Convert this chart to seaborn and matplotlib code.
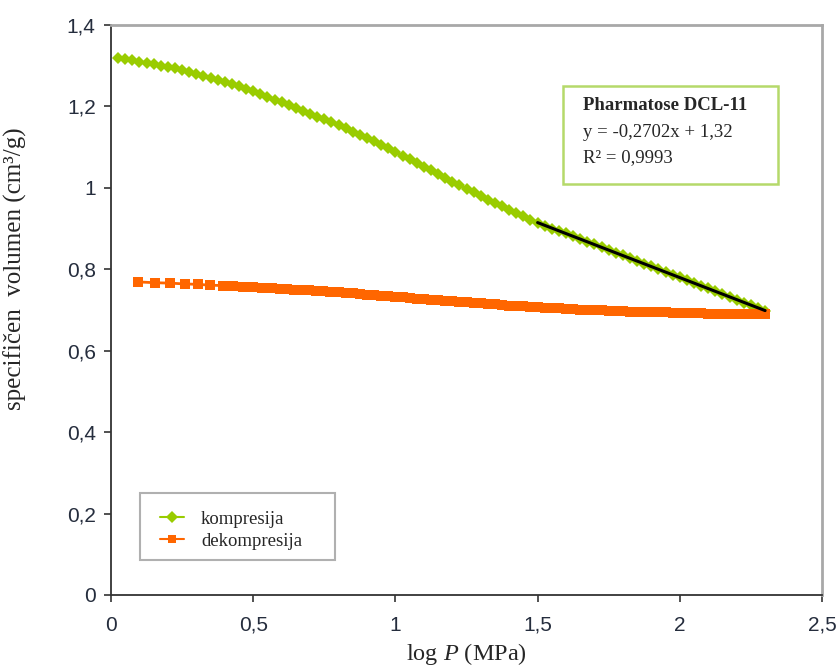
import numpy as np
import pandas as pd
import matplotlib
matplotlib.use("Agg")
import matplotlib.pyplot as plt
from matplotlib.ticker import FuncFormatter, MultipleLocator
from matplotlib.patches import Rectangle
import seaborn as sns

# log P (MPa) and specific volume (cm3/g) during compression
komp_x = [0.025, 0.050, 0.075, 0.100, 0.125, 0.150, 0.175, 0.200, 0.225, 0.250,
          0.275, 0.300, 0.325, 0.350, 0.375, 0.400, 0.425, 0.450, 0.475, 0.500,
          0.525, 0.550, 0.575, 0.600, 0.625, 0.650, 0.675, 0.700, 0.725, 0.750,
          0.775, 0.800, 0.825, 0.850, 0.875, 0.900, 0.925, 0.950, 0.975, 1.000,
          1.025, 1.050, 1.075, 1.100, 1.125, 1.150, 1.175, 1.200, 1.225, 1.250,
          1.275, 1.300, 1.325, 1.350, 1.375, 1.400, 1.425, 1.450, 1.475, 1.500,
          1.525, 1.550, 1.575, 1.600, 1.625, 1.650, 1.675, 1.700, 1.725, 1.750,
          1.775, 1.800, 1.825, 1.850, 1.875, 1.900, 1.925, 1.950, 1.975, 2.000,
          2.025, 2.050, 2.075, 2.100, 2.125, 2.150, 2.175, 2.200, 2.225, 2.250,
          2.275, 2.300]
komp_y = [1.320, 1.317, 1.313, 1.310, 1.307, 1.304, 1.300, 1.297, 1.294, 1.290,
          1.285, 1.280, 1.275, 1.270, 1.265, 1.260, 1.254, 1.249, 1.243, 1.237,
          1.230, 1.224, 1.217, 1.210, 1.203, 1.196, 1.189, 1.182, 1.175, 1.168,
          1.162, 1.155, 1.147, 1.138, 1.130, 1.122, 1.114, 1.105, 1.097, 1.088,
          1.079, 1.070, 1.061, 1.052, 1.043, 1.034, 1.024, 1.015, 1.006, 0.997,
          0.989, 0.980, 0.971, 0.963, 0.955, 0.946, 0.938, 0.930, 0.921, 0.913,
          0.907, 0.900, 0.894, 0.888, 0.881, 0.874, 0.868, 0.861, 0.854, 0.847,
          0.841, 0.834, 0.827, 0.820, 0.814, 0.807, 0.800, 0.793, 0.787, 0.780,
          0.773, 0.766, 0.760, 0.753, 0.746, 0.739, 0.732, 0.725, 0.718, 0.712,
          0.705, 0.698]

# decompression
dekomp_x = [0.095, 0.155, 0.207, 0.260, 0.305, 0.348, 0.393, 0.430, 0.464, 0.500,
            0.530, 0.565, 0.594, 0.620, 0.645, 0.670, 0.695, 0.720, 0.745, 0.770,
            0.800, 0.825, 0.850, 0.875, 0.900, 0.925, 0.950, 0.975, 1.000, 1.025,
            1.050, 1.075, 1.100, 1.125, 1.150, 1.175, 1.200, 1.225, 1.250, 1.275,
            1.300, 1.325, 1.350, 1.375, 1.400, 1.425, 1.450, 1.475, 1.500, 1.525,
            1.550, 1.575, 1.600, 1.625, 1.650, 1.675, 1.700, 1.725, 1.750, 1.775,
            1.800, 1.825, 1.850, 1.875, 1.900, 1.925, 1.950, 1.975, 2.000, 2.025,
            2.050, 2.075, 2.100, 2.125, 2.150, 2.175, 2.200, 2.225, 2.250, 2.275,
            2.300]
dekomp_y = [0.769, 0.767, 0.766, 0.764, 0.763, 0.761, 0.760, 0.759, 0.757, 0.756,
            0.755, 0.753, 0.752, 0.751, 0.750, 0.749, 0.748, 0.747, 0.746, 0.745,
            0.743, 0.742, 0.741, 0.740, 0.738, 0.737, 0.735, 0.734, 0.732, 0.731,
            0.729, 0.728, 0.727, 0.725, 0.724, 0.723, 0.721, 0.720, 0.719, 0.718,
            0.716, 0.715, 0.714, 0.713, 0.711, 0.710, 0.709, 0.708, 0.707, 0.706,
            0.705, 0.704, 0.703, 0.702, 0.701, 0.700, 0.700, 0.699, 0.698, 0.698,
            0.697, 0.696, 0.696, 0.695, 0.695, 0.694, 0.694, 0.693, 0.693, 0.692,
            0.692, 0.692, 0.691, 0.691, 0.691, 0.690, 0.690, 0.690, 0.690, 0.690,
            0.690]

# linear fit over the high-pressure part of the compression curve
fit_slope = -0.2702
fit_intercept = 1.32
fit_range = [1.5, 2.3]
fit_r2 = "0,9993"
material = "Pharmatose DCL-11"

green = "#99cc00"
orange = "#ff6600"

sns.set_style("ticks")
plt.rcParams["font.family"] = ["Liberation Sans", "DejaVu Sans"]
plt.rcParams["mathtext.fontset"] = "custom"
plt.rcParams["mathtext.rm"] = "Liberation Serif"
plt.rcParams["mathtext.it"] = "Liberation Serif:italic"

fig = plt.figure(figsize=(8.38, 6.66), dpi=100)
ax = fig.add_axes([111 / 838, 1 - 595 / 666, 711 / 838, 570 / 666])

komp = pd.DataFrame({"x": komp_x, "y": komp_y})
dekomp = pd.DataFrame({"x": dekomp_x, "y": dekomp_y})

sns.lineplot(data=komp, x="x", y="y", ax=ax, color=green, lw=2,
             marker="D", markersize=6.3, markeredgewidth=0, sort=False,
             label="kompresija", zorder=3)
sns.lineplot(data=dekomp, x="x", y="y", ax=ax, color=orange, lw=2,
             marker="s", markersize=7.5, markeredgewidth=0, sort=False,
             label="dekompresija", zorder=3)

fx = np.array(fit_range)
ax.plot(fx, fit_slope * fx + fit_intercept, color="black", lw=2.2, zorder=4)

ax.set_xlim(0, 2.5)
ax.set_ylim(0, 1.4)
ax.xaxis.set_major_locator(MultipleLocator(0.5))
ax.yaxis.set_major_locator(MultipleLocator(0.2))
comma = FuncFormatter(lambda v, p: ("%g" % round(v, 2)).replace(".", ","))
ax.xaxis.set_major_formatter(comma)
ax.yaxis.set_major_formatter(comma)

tick_color = "#252d3d"
ax.tick_params(axis="both", direction="out", length=5, width=1.2,
               colors="#333333", labelcolor=tick_color, labelsize=15)
ax.tick_params(axis="x", pad=10)
ax.tick_params(axis="y", pad=6)

for side in ("left", "bottom"):
    ax.spines[side].set_color("#333333")
    ax.spines[side].set_linewidth(1.3)
for side in ("top", "right"):
    ax.spines[side].set_visible(True)
    ax.spines[side].set_color("#a8a8a8")
    ax.spines[side].set_linewidth(2)

ax.set_xlabel(r"log $\it{P}$ (MPa)", fontsize=17.5, family="Liberation Serif")
ax.xaxis.set_label_coords(0.5, -0.08)
ax.set_ylabel("specifičen  volumen (cm³/g)", fontsize=18,
              family="Liberation Serif")
ax.yaxis.set_label_coords(-0.118, 0.572)

# legend in a plain grey frame
ax.add_patch(Rectangle((0.041, 0.061), 0.274, 0.118, transform=ax.transAxes,
                       facecolor="white", edgecolor="#b0b0b0", lw=1.5,
                       zorder=5))
leg = ax.legend(loc="lower left", bbox_to_anchor=(0.045, 0.05),
                frameon=False, handlelength=1.3, handletextpad=0.9,
                labelspacing=0.25, prop={"family": "Liberation Serif",
                                         "size": 13.5})
leg.set_zorder(6)
for h in leg.legend_handles:
    h.set_markersize(6)
    h.set_linewidth(1.5)

# regression box
ax.add_patch(Rectangle((0.636, 0.721), 0.302, 0.172, transform=ax.transAxes,
                       facecolor="white", edgecolor="#b5d96a", lw=1.8,
                       zorder=5))
tx = 0.664
ax.text(tx, 0.858, material, transform=ax.transAxes, fontsize=13.5,
        fontweight="bold", family="Liberation Serif", va="center", zorder=6)
eq = "y = %s x + %s" % (("%g" % fit_slope).replace(".", ","),
                       ("%g" % fit_intercept).replace(".", ","))
eq = eq.replace(" x", "x")
ax.text(tx, 0.811, eq, transform=ax.transAxes, fontsize=13.5,
        family="Liberation Serif", va="center", zorder=6)
ax.text(tx, 0.767, "R² = " + fit_r2, transform=ax.transAxes, fontsize=13.5,
        family="Liberation Serif", va="center", zorder=6)

fig.savefig("out.png", dpi=100, facecolor="white")
